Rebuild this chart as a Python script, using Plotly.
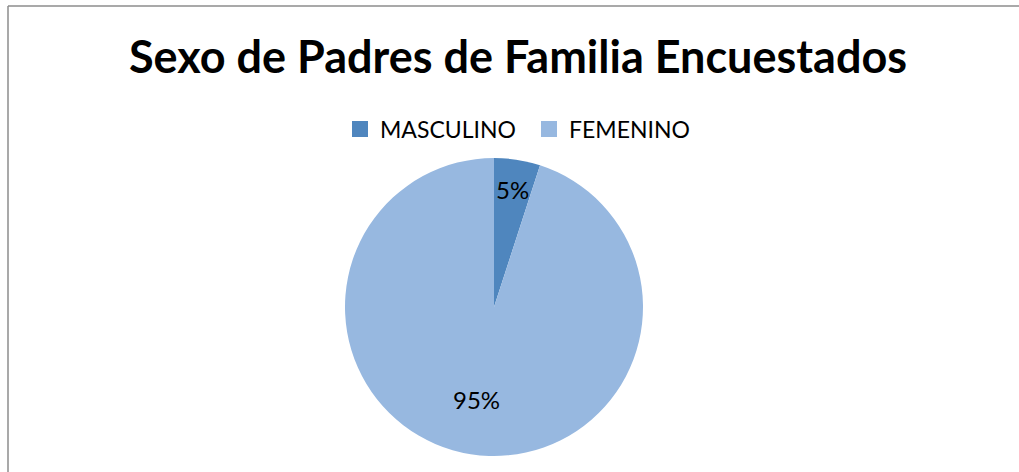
import math
import plotly.graph_objects as go

labels = ["MASCULINO", "FEMENINO"]
values = [5, 95]
colors = ["#4F86BE", "#97B8E0"]
title_text = "Sexo de Padres de Familia Encuestados"

W, H = 1019, 472
cx, cy, R = 494, 307, 149
FONT = "Lato, Carlito, sans-serif"

fig = go.Figure()
fig.add_trace(go.Pie(
    labels=labels, values=values, sort=False, direction="clockwise", rotation=0,
    marker=dict(colors=colors, line=dict(width=0)),
    textinfo="none", hoverinfo="label+percent", showlegend=False,
    domain=dict(x=[(cx - R) / W, (cx + R) / W], y=[(H - cy - R) / H, (H - cy + R) / H]),
))

# legend entries with larger square swatches
for lab, col in zip(labels, colors):
    fig.add_trace(go.Scatter(x=[None], y=[None], mode="markers", name=lab,
                             marker=dict(symbol="square", size=18, color=col),
                             hoverinfo="skip"))

# data labels placed from slice mid-angles
total = sum(values)
start = 0.0
label_r = [0.80, 0.74]
for i, v in enumerate(values):
    frac = v / total
    mid = (start + frac / 2) * 2 * math.pi
    start += frac
    px = cx + label_r[i] * R * math.sin(mid)
    py = cy - label_r[i] * R * math.cos(mid)
    fig.add_annotation(x=px / W, y=1 - py / H, xref="paper", yref="paper",
                       text=f"{round(frac*100)}%", showarrow=False,
                       font=dict(family=FONT, size=24, color="#000"))

fig.update_layout(
    width=W, height=H,
    margin=dict(l=0, r=0, t=0, b=0),
    paper_bgcolor="white", plot_bgcolor="white",
    xaxis=dict(visible=False), yaxis=dict(visible=False),
    title=dict(text=f"<b>{title_text}</b>", x=518 / W, xanchor="center", y=1 - 57 / H, yanchor="middle",
               font=dict(family=FONT, size=45, color="#000")),
    legend=dict(orientation="h", x=529 / W, xanchor="center", y=1 - 129 / H, yanchor="middle",
                font=dict(family=FONT, size=23, color="#000"),
                itemsizing="trace", traceorder="normal", entrywidth=144),
    shapes=[
        dict(type="rect", xref="paper", yref="paper", x0=1008 / W, x1=1, y0=0, y1=1,
             fillcolor="white", line=dict(width=0), layer="above"),
        dict(type="line", xref="paper", yref="paper", x0=8 / W, x1=1, y0=1 - 6 / H, y1=1 - 6 / H,
             line=dict(color="#8C8C8C", width=1.5)),
        dict(type="line", xref="paper", yref="paper", x0=8 / W, x1=8 / W, y0=0, y1=1 - 6 / H,
             line=dict(color="#8C8C8C", width=1.5)),
    ],
)

fig.write_html("out.html", config={"displayModeBar": False},
               post_script="document.body.style.margin='0';document.body.style.overflow='hidden';"
                           "document.documentElement.style.overflow='hidden';")
